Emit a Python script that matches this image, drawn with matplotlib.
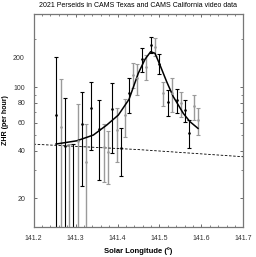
import matplotlib
matplotlib.use("Agg")
import matplotlib.pyplot as plt
from matplotlib.ticker import FixedLocator, MultipleLocator, NullFormatter
import matplotlib.transforms as mtransforms

plt.rcParams['font.family'] = ['Liberation Sans', 'DejaVu Sans']

# CAMS Texas (black) and CAMS California (gray) ZHR points with 1-sigma errors
tx_sol = [141.2536, 141.2757, 141.2940, 141.3155, 141.3362, 141.3552, 141.3876,
          141.4076, 141.4281, 141.4583, 141.4790, 141.4995, 141.5195, 141.5410,
          141.5614, 141.5710]
tx_zhr = [67, 43, 8, 58.8, 74.4, 54.7, 72.7, 41.8, 92, 150, 185, 141, 81, 82.8, 72, 51.8]
tx_err = [87, 43, 36, 35, 34, 28.5, 34, 14, 23, 25.5, 21, 20, 15, 14.2, 11.2, 10.4]

ca_sol = [141.2648, 141.2852, 141.3060, 141.3250, 141.3671, 141.3767, 141.3981,
          141.4179, 141.4376, 141.4471, 141.4679, 141.4893, 141.5090, 141.5298,
          141.5505, 141.5814, 141.5917]
ca_zhr = [56, 8, 46, 34, 42, 39, 54, 66.5, 120, 115, 135, 180, 92.4, 92, 79.5, 75.8, 62]
ca_err = [56, 36, 33, 24.5, 16.5, 14.5, 20, 17.5, 21.5, 25, 24.5, 23.5, 16, 22, 14.3, 13.7, 11.9]

# fitted activity curve
fit_sol = [141.2536, 141.3029, 141.3424, 141.3743, 141.4019, 141.4274, 141.4495,
           141.4655, 141.4790, 141.4893, 141.5012, 141.5171, 141.5329, 141.5567,
           141.5726, 141.5917]
fit_zhr = [44.0, 46.1, 50.1, 57.9, 66.9, 84.0, 122.5, 150, 167.5, 163.6, 138,
           108.5, 87.3, 68.6, 60.8, 55.2]

# sporadic background
bg_sol = [141.2, 141.45, 141.7]
bg_zhr = [43.9, 40.6, 36.6]

fig = plt.figure(figsize=(2.56, 2.57), dpi=100)
ax = fig.add_axes([0.131, 0.118, 0.82, 0.8275])

ax.errorbar(ca_sol, ca_zhr, yerr=ca_err, fmt='o', ms=0.9, color='#9a9a9a',
            ecolor='#9a9a9a', elinewidth=1.0, capsize=1.5, capthick=0.8)
ax.errorbar(tx_sol, tx_zhr, yerr=tx_err, fmt='o', ms=0.9, color='black',
            ecolor='black', elinewidth=0.8, capsize=1.5, capthick=0.8)
ax.plot(fit_sol, fit_zhr, color='black', lw=1.1)
ax.plot(bg_sol, bg_zhr, color='black', lw=0.6, ls=(0, (3, 2)))

ax.set_yscale('log')
ax.set_xlim(141.2, 141.7)
ax.set_ylim(13.3, 289)

ax.xaxis.set_major_locator(MultipleLocator(0.1))
ax.xaxis.set_minor_locator(MultipleLocator(0.02))
ax.yaxis.set_major_locator(FixedLocator([20, 40, 60, 80, 100]))
ax.yaxis.set_major_formatter(plt.FixedFormatter(['20', '40', '60', '80', '100']))
ax.yaxis.set_minor_locator(FixedLocator([30, 50, 70, 90, 200]))
ax.yaxis.set_minor_formatter(NullFormatter())

ax.tick_params(which='both', direction='in', top=True, right=True,
               labelsize=5, colors='#555555', labelcolor='#333333', pad=6)
ax.tick_params(which='major', length=2.5, width=0.6)
ax.tick_params(which='minor', length=1.5, width=0.5)
for s in ax.spines.values():
    s.set_color('#777777')
    s.set_linewidth(0.9)

# the "200" label sits off its tick in the original chart
trans = mtransforms.blended_transform_factory(ax.transAxes, ax.transData)
ax.text(-0.045, 152, '200', transform=trans, ha='right', va='center',
        fontsize=5, color='#333333')

ax.set_title('2021 Perseids in CAMS Texas and CAMS California video data',
             fontsize=5, pad=5)
ax.set_xlabel('Solar Longitude (º)', fontsize=5.5, fontweight='bold', labelpad=4)
ax.set_ylabel('ZHR (per hour)', fontsize=5, fontweight='bold', labelpad=3)

fig.savefig('out.png', dpi=100)
